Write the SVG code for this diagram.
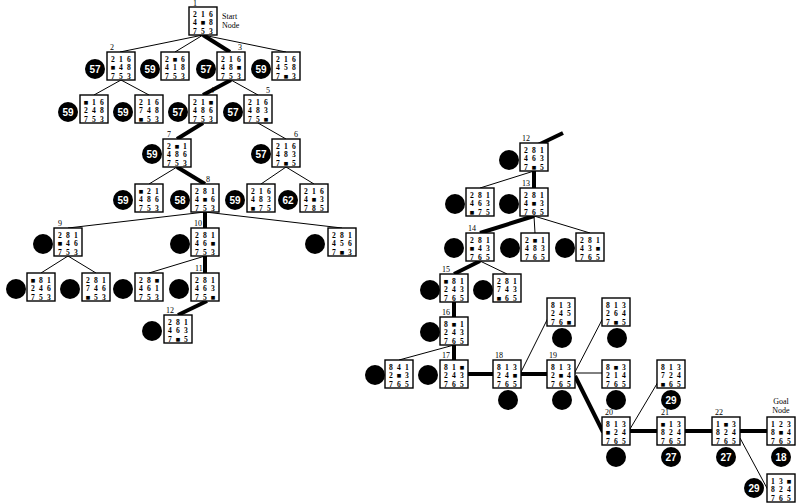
<svg xmlns="http://www.w3.org/2000/svg" width="807" height="504" viewBox="0 0 807 504">
<style>
.b{fill:#fff;stroke:#000;stroke-width:1.4}
.t{font-family:"Liberation Serif","DejaVu Serif",serif;font-size:7.6px;font-weight:bold;text-anchor:middle;fill:#000}
.c{fill:#000}
.ct{font-family:"Liberation Sans","DejaVu Sans",sans-serif;font-size:10px;font-weight:bold;fill:#fff;text-anchor:middle}
.lb{font-family:"Liberation Serif","DejaVu Serif",serif;font-size:8px;fill:#000}
.thin{stroke:#000;stroke-width:1;fill:none}
.thick{stroke:#000;stroke-width:4;fill:none}
</style>
<rect width="807" height="504" fill="#fff"/>
<g id="connectors">
<line class="thin" x1="203" y1="35" x2="120" y2="52"/>
<line class="thin" x1="203" y1="35" x2="175" y2="52"/>
<line class="thick" x1="203" y1="35" x2="230" y2="52"/>
<line class="thin" x1="203" y1="35" x2="286" y2="52"/>
<line class="thin" x1="121" y1="80" x2="94" y2="95"/>
<line class="thin" x1="121" y1="80" x2="149" y2="95"/>
<line class="thick" x1="231" y1="80" x2="203" y2="95"/>
<line class="thin" x1="231" y1="80" x2="258" y2="95"/>
<line class="thick" x1="203" y1="123" x2="177" y2="139"/>
<line class="thin" x1="258" y1="123" x2="286" y2="139"/>
<line class="thin" x1="177" y1="167" x2="149" y2="184"/>
<line class="thick" x1="177" y1="167" x2="205" y2="184"/>
<line class="thin" x1="286" y1="167" x2="261" y2="184"/>
<line class="thin" x1="286" y1="167" x2="314" y2="184"/>
<line class="thin" x1="205" y1="212" x2="68" y2="228"/>
<line class="thick" x1="205" y1="212" x2="205" y2="228"/>
<line class="thin" x1="205" y1="212" x2="342" y2="228"/>
<line class="thin" x1="68" y1="256" x2="41" y2="273"/>
<line class="thin" x1="68" y1="256" x2="96" y2="273"/>
<line class="thin" x1="205" y1="256" x2="149" y2="273"/>
<line class="thick" x1="205" y1="256" x2="205" y2="273"/>
<line class="thick" x1="207" y1="301" x2="178" y2="315"/>
<line class="thick" x1="563" y1="133" x2="538" y2="145"/>
<line class="thin" x1="534" y1="171" x2="480" y2="188"/>
<line class="thick" x1="534" y1="171" x2="534" y2="188"/>
<line class="thick" x1="534" y1="216" x2="480" y2="233"/>
<line class="thin" x1="534" y1="216" x2="535" y2="233"/>
<line class="thin" x1="534" y1="216" x2="590" y2="233"/>
<line class="thick" x1="480" y1="261" x2="454" y2="274"/>
<line class="thin" x1="480" y1="261" x2="507" y2="274"/>
<line class="thick" x1="454" y1="302" x2="454" y2="317"/>
<line class="thin" x1="454" y1="345" x2="399" y2="360"/>
<line class="thick" x1="454" y1="345" x2="454" y2="360"/>
<line class="thick" x1="468" y1="374" x2="493" y2="374"/>
<line class="thin" x1="521" y1="372" x2="548" y2="318"/>
<line class="thick" x1="521" y1="374" x2="547" y2="374"/>
<line class="thin" x1="575" y1="372" x2="603" y2="318"/>
<line class="thin" x1="575" y1="373" x2="602" y2="373"/>
<line class="thick" x1="575" y1="376" x2="603" y2="432"/>
<line class="thin" x1="630" y1="429" x2="658" y2="382"/>
<line class="thick" x1="630" y1="431" x2="657" y2="431"/>
<line class="thick" x1="685" y1="431" x2="712" y2="431"/>
<line class="thick" x1="740" y1="431" x2="767" y2="431"/>
<line class="thin" x1="740" y1="438" x2="768" y2="490"/>
</g>

<g id="n1" transform="translate(189,7)"><rect class="b" width="28" height="28"/><text class="t"><tspan x="6 14 22" y="9.5">216</tspan><tspan x="6 14 22" y="18">4■8</tspan><tspan x="6 14 22" y="26.5">753</tspan></text><text class="lb" x="4" y="-1">1</text><text class="lb" x="33" y="12">Start</text><text class="lb" x="33" y="21">Node</text></g>
<g id="n2" transform="translate(107,52)"><circle class="c" cx="-12" cy="17" r="10"/><text class="ct" x="-12" y="21">57</text><rect class="b" width="28" height="28"/><text class="t"><tspan x="6 14 22" y="9.5">216</tspan><tspan x="6 14 22" y="18">■48</tspan><tspan x="6 14 22" y="26.5">753</tspan></text><text class="lb" x="3" y="-2">2</text></g>
<g id="na" transform="translate(161,52)"><circle class="c" cx="-11" cy="17" r="10"/><text class="ct" x="-11" y="21">59</text><rect class="b" width="28" height="28"/><text class="t"><tspan x="6 14 22" y="9.5">2■6</tspan><tspan x="6 14 22" y="18">418</tspan><tspan x="6 14 22" y="26.5">753</tspan></text></g>
<g id="n3" transform="translate(217,52)"><circle class="c" cx="-11" cy="17" r="10"/><text class="ct" x="-11" y="21">57</text><rect class="b" width="28" height="28"/><text class="t"><tspan x="6 14 22" y="9.5">216</tspan><tspan x="6 14 22" y="18">48■</tspan><tspan x="6 14 22" y="26.5">753</tspan></text><text class="lb" x="21" y="-2">3</text></g>
<g id="nb" transform="translate(272,52)"><circle class="c" cx="-11" cy="17" r="10"/><text class="ct" x="-11" y="21">59</text><rect class="b" width="28" height="28"/><text class="t"><tspan x="6 14 22" y="9.5">216</tspan><tspan x="6 14 22" y="18">458</tspan><tspan x="6 14 22" y="26.5">7■3</tspan></text></g>
<g id="nc" transform="translate(80,95)"><circle class="c" cx="-12" cy="17" r="10"/><text class="ct" x="-12" y="21">59</text><rect class="b" width="28" height="28"/><text class="t"><tspan x="6 14 22" y="9.5">■16</tspan><tspan x="6 14 22" y="18">248</tspan><tspan x="6 14 22" y="26.5">753</tspan></text></g>
<g id="nd" transform="translate(135,95)"><circle class="c" cx="-12" cy="17" r="10"/><text class="ct" x="-12" y="21">59</text><rect class="b" width="28" height="28"/><text class="t"><tspan x="6 14 22" y="9.5">216</tspan><tspan x="6 14 22" y="18">748</tspan><tspan x="6 14 22" y="26.5">■53</tspan></text></g>
<g id="n4" transform="translate(189,95)"><circle class="c" cx="-11" cy="17" r="10"/><text class="ct" x="-11" y="21">57</text><rect class="b" width="28" height="28"/><text class="t"><tspan x="6 14 22" y="9.5">21■</tspan><tspan x="6 14 22" y="18">486</tspan><tspan x="6 14 22" y="26.5">753</tspan></text><text class="lb" x="21" y="-2">4</text></g>
<g id="n5" transform="translate(244,95)"><circle class="c" cx="-11" cy="17" r="10"/><text class="ct" x="-11" y="21">57</text><rect class="b" width="28" height="28"/><text class="t"><tspan x="6 14 22" y="9.5">216</tspan><tspan x="6 14 22" y="18">483</tspan><tspan x="6 14 22" y="26.5">75■</tspan></text><text class="lb" x="22" y="-2">5</text></g>
<g id="n7" transform="translate(163,139)"><circle class="c" cx="-11" cy="15" r="10"/><text class="ct" x="-11" y="19">59</text><rect class="b" width="28" height="28"/><text class="t"><tspan x="6 14 22" y="9.5">2■1</tspan><tspan x="6 14 22" y="18">486</tspan><tspan x="6 14 22" y="26.5">753</tspan></text><text class="lb" x="4" y="-2">7</text></g>
<g id="n6" transform="translate(272,139)"><circle class="c" cx="-11" cy="15" r="10"/><text class="ct" x="-11" y="19">57</text><rect class="b" width="28" height="28"/><text class="t"><tspan x="6 14 22" y="9.5">216</tspan><tspan x="6 14 22" y="18">483</tspan><tspan x="6 14 22" y="26.5">7■5</tspan></text><text class="lb" x="22" y="-2">6</text></g>
<g id="ne" transform="translate(135,184)"><circle class="c" cx="-12" cy="16" r="10"/><text class="ct" x="-12" y="20">59</text><rect class="b" width="28" height="28"/><text class="t"><tspan x="6 14 22" y="9.5">■21</tspan><tspan x="6 14 22" y="18">486</tspan><tspan x="6 14 22" y="26.5">753</tspan></text></g>
<g id="n8" transform="translate(191,184)"><circle class="c" cx="-11" cy="16" r="10"/><text class="ct" x="-11" y="20">58</text><rect class="b" width="28" height="28"/><text class="t"><tspan x="6 14 22" y="9.5">281</tspan><tspan x="6 14 22" y="18">4■6</tspan><tspan x="6 14 22" y="26.5">753</tspan></text><text class="lb" x="15" y="-2">8</text></g>
<g id="nf" transform="translate(247,184)"><circle class="c" cx="-12" cy="16" r="10"/><text class="ct" x="-12" y="20">59</text><rect class="b" width="28" height="28"/><text class="t"><tspan x="6 14 22" y="9.5">216</tspan><tspan x="6 14 22" y="18">483</tspan><tspan x="6 14 22" y="26.5">■75</tspan></text></g>
<g id="ng" transform="translate(300,184)"><circle class="c" cx="-12" cy="16" r="10"/><text class="ct" x="-12" y="20">62</text><rect class="b" width="28" height="28"/><text class="t"><tspan x="6 14 22" y="9.5">216</tspan><tspan x="6 14 22" y="18">4■3</tspan><tspan x="6 14 22" y="26.5">785</tspan></text></g>
<g id="n9" transform="translate(54,228)"><circle class="c" cx="-11" cy="16" r="10"/><rect class="b" width="28" height="28"/><text class="t"><tspan x="6 14 22" y="9.5">281</tspan><tspan x="6 14 22" y="18">■46</tspan><tspan x="6 14 22" y="26.5">753</tspan></text><text class="lb" x="4" y="-2">9</text></g>
<g id="n10" transform="translate(191,228)"><circle class="c" cx="-11" cy="16" r="10"/><rect class="b" width="28" height="28"/><text class="t"><tspan x="6 14 22" y="9.5">281</tspan><tspan x="6 14 22" y="18">46■</tspan><tspan x="6 14 22" y="26.5">753</tspan></text><text class="lb" x="3" y="-2">10</text></g>
<g id="nh" transform="translate(328,228)"><circle class="c" cx="-13" cy="16" r="10"/><rect class="b" width="28" height="28"/><text class="t"><tspan x="6 14 22" y="9.5">281</tspan><tspan x="6 14 22" y="18">456</tspan><tspan x="6 14 22" y="26.5">7■3</tspan></text></g>
<g id="ni" transform="translate(27,273)"><circle class="c" cx="-11" cy="16" r="10"/><rect class="b" width="28" height="28"/><text class="t"><tspan x="6 14 22" y="9.5">■81</tspan><tspan x="6 14 22" y="18">246</tspan><tspan x="6 14 22" y="26.5">753</tspan></text></g>
<g id="nj" transform="translate(82,273)"><circle class="c" cx="-12" cy="16" r="10"/><rect class="b" width="28" height="28"/><text class="t"><tspan x="6 14 22" y="9.5">281</tspan><tspan x="6 14 22" y="18">746</tspan><tspan x="6 14 22" y="26.5">■53</tspan></text></g>
<g id="nk" transform="translate(135,273)"><circle class="c" cx="-12" cy="16" r="10"/><rect class="b" width="28" height="28"/><text class="t"><tspan x="6 14 22" y="9.5">28■</tspan><tspan x="6 14 22" y="18">461</tspan><tspan x="6 14 22" y="26.5">753</tspan></text></g>
<g id="n11" transform="translate(191,273)"><circle class="c" cx="-12" cy="16" r="10"/><rect class="b" width="28" height="28"/><text class="t"><tspan x="6 14 22" y="9.5">281</tspan><tspan x="6 14 22" y="18">463</tspan><tspan x="6 14 22" y="26.5">75■</tspan></text><text class="lb" x="4" y="-2">11</text></g>
<g id="n12a" transform="translate(164,315)"><circle class="c" cx="-12" cy="16" r="10"/><rect class="b" width="28" height="28"/><text class="t"><tspan x="6 14 22" y="9.5">281</tspan><tspan x="6 14 22" y="18">463</tspan><tspan x="6 14 22" y="26.5">7■5</tspan></text><text class="lb" x="2" y="-2">12</text></g>

<g id="n12b" transform="translate(520,143)"><circle class="c" cx="-11" cy="17" r="10"/><rect class="b" width="28" height="28"/><text class="t"><tspan x="6 14 22" y="9.5">281</tspan><tspan x="6 14 22" y="18">463</tspan><tspan x="6 14 22" y="26.5">7■5</tspan></text><text class="lb" x="2" y="-2">12</text></g>
<g id="nl" transform="translate(466,188)"><circle class="c" cx="-11" cy="16" r="10"/><rect class="b" width="28" height="28"/><text class="t"><tspan x="6 14 22" y="9.5">281</tspan><tspan x="6 14 22" y="18">463</tspan><tspan x="6 14 22" y="26.5">■75</tspan></text></g>
<g id="n13" transform="translate(520,188)"><circle class="c" cx="-11" cy="16" r="10"/><rect class="b" width="28" height="28"/><text class="t"><tspan x="6 14 22" y="9.5">281</tspan><tspan x="6 14 22" y="18">4■3</tspan><tspan x="6 14 22" y="26.5">765</tspan></text><text class="lb" x="2" y="-2">13</text></g>
<g id="n14" transform="translate(466,233)"><circle class="c" cx="-12" cy="15" r="10"/><rect class="b" width="28" height="28"/><text class="t"><tspan x="6 14 22" y="9.5">281</tspan><tspan x="6 14 22" y="18">■43</tspan><tspan x="6 14 22" y="26.5">765</tspan></text><text class="lb" x="2" y="-2">14</text></g>
<g id="nm" transform="translate(521,233)"><circle class="c" cx="-11" cy="15" r="10"/><rect class="b" width="28" height="28"/><text class="t"><tspan x="6 14 22" y="9.5">2■1</tspan><tspan x="6 14 22" y="18">483</tspan><tspan x="6 14 22" y="26.5">765</tspan></text></g>
<g id="nn" transform="translate(576,233)"><circle class="c" cx="-11" cy="15" r="10"/><rect class="b" width="28" height="28"/><text class="t"><tspan x="6 14 22" y="9.5">281</tspan><tspan x="6 14 22" y="18">43■</tspan><tspan x="6 14 22" y="26.5">765</tspan></text></g>
<g id="n15" transform="translate(440,274)"><circle class="c" cx="-10" cy="16" r="10"/><rect class="b" width="28" height="28"/><text class="t"><tspan x="6 14 22" y="9.5">■81</tspan><tspan x="6 14 22" y="18">243</tspan><tspan x="6 14 22" y="26.5">765</tspan></text><text class="lb" x="2" y="-2">15</text></g>
<g id="no" transform="translate(493,274)"><circle class="c" cx="-10" cy="16" r="10"/><rect class="b" width="28" height="28"/><text class="t"><tspan x="6 14 22" y="9.5">281</tspan><tspan x="6 14 22" y="18">743</tspan><tspan x="6 14 22" y="26.5">■65</tspan></text></g>
<g id="n16" transform="translate(440,317)"><circle class="c" cx="-10" cy="15" r="10"/><rect class="b" width="28" height="28"/><text class="t"><tspan x="6 14 22" y="9.5">8■1</tspan><tspan x="6 14 22" y="18">243</tspan><tspan x="6 14 22" y="26.5">765</tspan></text><text class="lb" x="2" y="-2">16</text></g>
<g id="np" transform="translate(385,360)"><circle class="c" cx="-10" cy="15" r="10"/><rect class="b" width="28" height="28"/><text class="t"><tspan x="6 14 22" y="9.5">841</tspan><tspan x="6 14 22" y="18">2■3</tspan><tspan x="6 14 22" y="26.5">765</tspan></text></g>
<g id="n17" transform="translate(440,360)"><circle class="c" cx="-12" cy="15" r="10"/><rect class="b" width="28" height="28"/><text class="t"><tspan x="6 14 22" y="9.5">81■</tspan><tspan x="6 14 22" y="18">243</tspan><tspan x="6 14 22" y="26.5">765</tspan></text><text class="lb" x="2" y="-2">17</text></g>
<g id="n18" transform="translate(493,360)"><circle class="c" cx="15" cy="40" r="10"/><rect class="b" width="28" height="28"/><text class="t"><tspan x="6 14 22" y="9.5">813</tspan><tspan x="6 14 22" y="18">24■</tspan><tspan x="6 14 22" y="26.5">765</tspan></text><text class="lb" x="2" y="-2">18</text></g>
<g id="nq" transform="translate(547,298)"><circle class="c" cx="15" cy="40" r="10"/><rect class="b" width="28" height="28"/><text class="t"><tspan x="6 14 22" y="9.5">813</tspan><tspan x="6 14 22" y="18">245</tspan><tspan x="6 14 22" y="26.5">76■</tspan></text></g>
<g id="n19" transform="translate(547,360)"><circle class="c" cx="15" cy="40" r="10"/><rect class="b" width="28" height="28"/><text class="t"><tspan x="6 14 22" y="9.5">813</tspan><tspan x="6 14 22" y="18">2■4</tspan><tspan x="6 14 22" y="26.5">765</tspan></text><text class="lb" x="2" y="-2">19</text></g>
<g id="nr" transform="translate(602,298)"><circle class="c" cx="15" cy="40" r="10"/><rect class="b" width="28" height="28"/><text class="t"><tspan x="6 14 22" y="9.5">813</tspan><tspan x="6 14 22" y="18">264</tspan><tspan x="6 14 22" y="26.5">7■5</tspan></text></g>
<g id="ns" transform="translate(602,360)"><circle class="c" cx="14" cy="40" r="10"/><rect class="b" width="28" height="28"/><text class="t"><tspan x="6 14 22" y="9.5">8■3</tspan><tspan x="6 14 22" y="18">214</tspan><tspan x="6 14 22" y="26.5">765</tspan></text></g>
<g id="nt" transform="translate(657,360)"><circle class="c" cx="14" cy="40" r="10"/><text class="ct" x="14" y="44">29</text><rect class="b" width="28" height="28"/><text class="t"><tspan x="6 14 22" y="9.5">813</tspan><tspan x="6 14 22" y="18">724</tspan><tspan x="6 14 22" y="26.5">■65</tspan></text></g>
<g id="n20" transform="translate(602,417)"><circle class="c" cx="14" cy="40" r="10"/><rect class="b" width="28" height="28"/><text class="t"><tspan x="6 14 22" y="9.5">813</tspan><tspan x="6 14 22" y="18">■24</tspan><tspan x="6 14 22" y="26.5">765</tspan></text><text class="lb" x="3" y="-2">20</text></g>
<g id="n21" transform="translate(657,417)"><circle class="c" cx="14" cy="40" r="10"/><text class="ct" x="14" y="44">27</text><rect class="b" width="28" height="28"/><text class="t"><tspan x="6 14 22" y="9.5">■13</tspan><tspan x="6 14 22" y="18">824</tspan><tspan x="6 14 22" y="26.5">765</tspan></text><text class="lb" x="4" y="-2">21</text></g>
<g id="n22" transform="translate(712,417)"><circle class="c" cx="14" cy="40" r="10"/><text class="ct" x="14" y="44">27</text><rect class="b" width="28" height="28"/><text class="t"><tspan x="6 14 22" y="9.5">1■3</tspan><tspan x="6 14 22" y="18">824</tspan><tspan x="6 14 22" y="26.5">765</tspan></text><text class="lb" x="3" y="-2">22</text></g>
<g id="ngoal" transform="translate(767,417)"><circle class="c" cx="14" cy="40" r="10"/><text class="ct" x="14" y="44">18</text><rect class="b" width="28" height="28"/><text class="t"><tspan x="6 14 22" y="9.5">123</tspan><tspan x="6 14 22" y="18">8■4</tspan><tspan x="6 14 22" y="26.5">765</tspan></text><text class="lb" x="14" y="-13" text-anchor="middle">Goal</text><text class="lb" x="14" y="-4" text-anchor="middle">Node</text></g>
<g id="nu" transform="translate(767,474)"><circle class="c" cx="-13" cy="14" r="10"/><text class="ct" x="-13" y="18">29</text><rect class="b" width="28" height="28"/><text class="t"><tspan x="6 14 22" y="9.5">13■</tspan><tspan x="6 14 22" y="18">824</tspan><tspan x="6 14 22" y="26.5">765</tspan></text></g>
</svg>
